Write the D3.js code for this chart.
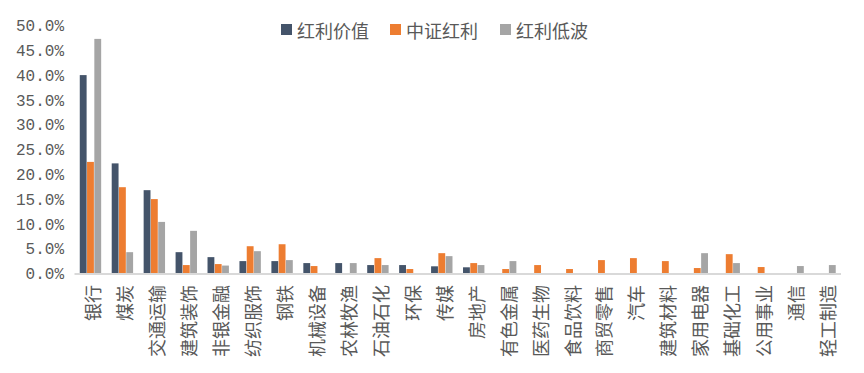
<!DOCTYPE html>
<meta charset="utf-8">
<style>
body { margin: 0; background: #fff; }
.tick text { font-family: "Liberation Mono", monospace; font-size: 16px; fill: #595959; }
.cat { font-family: "Noto Sans CJK SC", sans-serif; font-size: 18px; fill: #595959; }
.legend text { font-family: "Noto Sans CJK SC", sans-serif; font-size: 18px; fill: #595959; }
</style>
<body>
<script src="https://cdn.jsdelivr.net/npm/d3@7"></script>
<script>

// industries (x axis)
var categories = ["银行", "煤炭", "交通运输", "建筑装饰", "非银金融", "纺织服饰", "钢铁", "机械设备",
  "农林牧渔", "石油石化", "环保", "传媒", "房地产", "有色金属", "医药生物", "食品饮料",
  "商贸零售", "汽车", "建筑材料", "家用电器", "基础化工", "公用事业", "通信", "轻工制造"];

var seriesNames = ["红利价值", "中证红利", "红利低波"];

// weights in %
var hlValue = [40.0, 22.2, 16.8, 4.3, 3.3, 2.5, 2.5, 2.1, 2.1, 1.7, 1.7, 1.45, 1.25, 0, 0, 0, 0, 0, 0, 0, 0, 0, 0, 0];
var zzHongli = [22.5, 17.4, 15.0, 1.7, 1.9, 5.5, 5.9, 1.5, 0, 3.1, 0.9, 4.1, 2.1, 0.9, 1.7, 0.9, 2.7, 3.1, 2.5, 1.1, 3.9, 1.3, 0, 0];
var hlDibo = [47.3, 4.3, 10.4, 8.6, 1.6, 4.5, 2.7, 0, 2.1, 1.7, 0, 3.5, 1.7, 2.5, 0, 0, 0, 0, 0, 4.1, 2.1, 0, 1.5, 1.7];

var yTicks = [0, 5, 10, 15, 20, 25, 30, 35, 40, 45, 50];

var colors = ["#44546A", "#ED7D31", "#A5A5A5"];

var width = 864, height = 373;

var svg = d3.select("body").append("svg")
    .attr("width", width)
    .attr("height", height);

var series = [hlValue, zzHongli, hlDibo];

var x = d3.scaleBand()
    .domain(categories)
    .range([74.5, 841]);

var x1 = d3.scaleBand()
    .domain(d3.range(3))
    .range([-10.7, 10.7])
    .paddingInner(0.06);

var y = d3.scaleLinear()
    .domain([0, 50])
    .range([273.5, 25.5]);

// y axis labels, no line
var yAxis = svg.append("g")
    .attr("transform", "translate(64,0)")
    .call(d3.axisLeft(y).tickValues(yTicks).tickSize(0).tickPadding(0)
      .tickFormat(function(d) { return d.toFixed(1) + "%"; }));
yAxis.select(".domain").remove();

// bars
var groups = svg.selectAll(".grp")
    .data(categories)
  .enter().append("g")
    .attr("class", "grp")
    .attr("transform", function(d) { return "translate(" + (x(d) + x.bandwidth() / 2) + ",0)"; });

groups.selectAll("rect")
    .data(function(d, i) { return series.map(function(s, k) { return {k: k, v: s[i]}; }); })
  .enter().append("rect")
    .filter(function(d) { return d.v > 0; })
    .attr("x", function(d) { return x1(d.k); })
    .attr("width", x1.bandwidth())
    .attr("y", function(d) { return y(d.v); })
    .attr("height", function(d) { return y(0) - y(d.v); })
    .attr("fill", function(d) { return colors[d.k]; });

// baseline
svg.append("line")
    .attr("x1", 74.5).attr("x2", 841)
    .attr("y1", y(0) + 0.5).attr("y2", y(0) + 0.5)
    .attr("stroke", "#D9D9D9")
    .attr("stroke-width", 2);

// category labels, rotated
svg.selectAll(".cat")
    .data(categories)
  .enter().append("text")
    .attr("class", "cat")
    .attr("text-anchor", "end")
    .attr("dominant-baseline", "central")
    .attr("transform", function(d) {
      return "translate(" + (x(d) + x.bandwidth() / 2 + 2) + ",285) rotate(-90)";
    })
    .text(function(d) { return d; });

// legend
var legX = [281, 390, 500];
var legend = svg.append("g").attr("class", "legend");
seriesNames.forEach(function(name, i) {
  legend.append("rect")
      .attr("x", legX[i]).attr("y", 24)
      .attr("width", 11).attr("height", 11)
      .attr("fill", colors[i]);
  legend.append("text")
      .attr("x", legX[i] + 16).attr("y", 29.5)
      .attr("dominant-baseline", "central")
      .text(name);
});

</script>
</body>
